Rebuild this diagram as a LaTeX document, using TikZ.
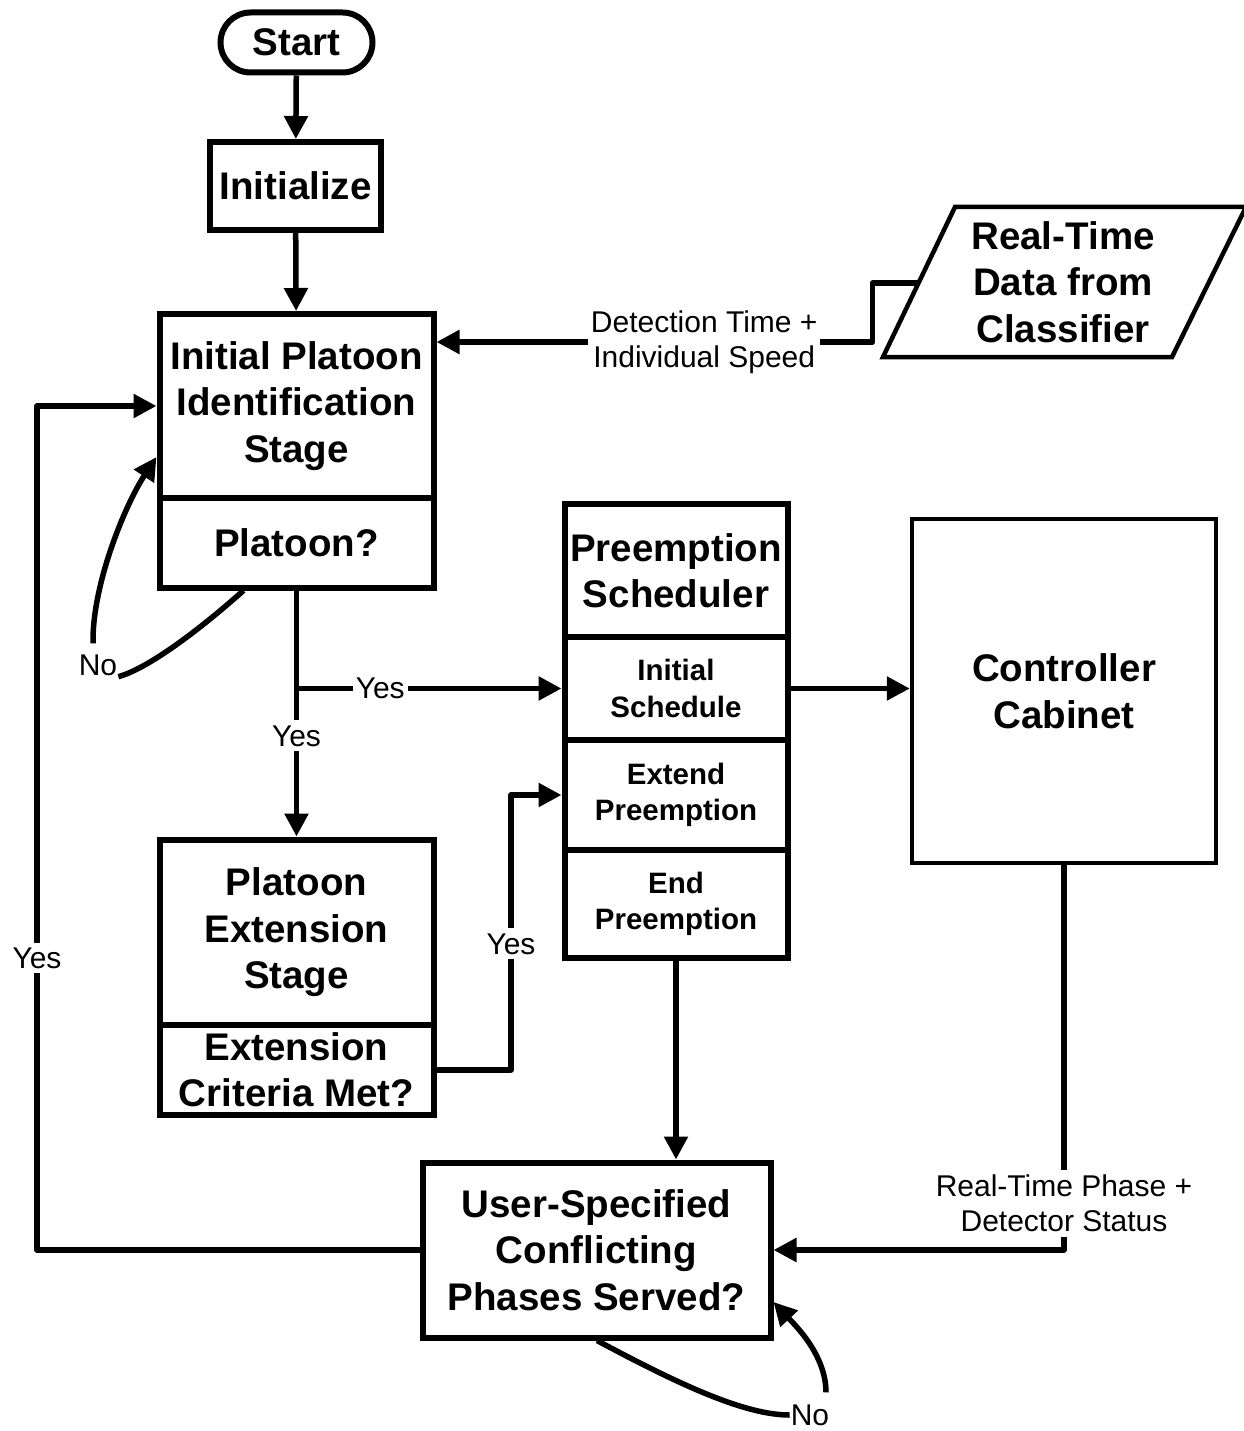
\documentclass[tikz,border=0pt]{standalone}
\usepackage{fontspec}
\setmainfont{Liberation Sans}
\usetikzlibrary{arrows.meta,calc}
\newcommand{\fbig}{\fontsize{38.5}{46.5}\selectfont\bfseries}
\newcommand{\fmid}{\fontsize{29.5}{36.5}\selectfont\bfseries}
\newcommand{\flab}{\fontsize{30}{35}\selectfont}
\begin{document}
\begin{tikzpicture}[x=1pt,y=-1pt,
  box/.style={draw,line width=6pt,font=\fbig,align=center,inner sep=0pt},
  sbox/.style={draw,line width=6pt,font=\fmid,align=center,inner sep=0pt},
  tbox/.style={draw,line width=4.5pt,font=\fbig,align=center,inner sep=0pt},
  lbl/.style={font=\flab,fill=white,inner xsep=3pt,inner ysep=5pt,align=center},
  nolbl/.style={font=\flab,inner sep=1pt},
  con/.style={line width=5.5pt,line join=round},
  arr/.style={line width=5.5pt,line join=round,-{Triangle[length=23pt,width=23pt]}}]
\useasboundingbox (0,0) rectangle (1243,1431);

% nodes
\node[box,rounded corners=30pt,minimum width=152pt,minimum height=60pt] (start) at (296.5,42.5) {Start};
\node[box,minimum width=171pt,minimum height=88pt] (init) at (295.5,186) {Initialize};
\node[box,minimum width=274pt,minimum height=184pt] (ipi) at (296.5,406) {Initial Platoon\\Identification\\Stage};
\node[box,minimum width=274pt,minimum height=89.5pt] (ipq) at (296.5,542.75) {Platoon?};

\node[box,minimum width=223pt,minimum height=133pt] (ps1) at (676,570.5) {Preemption\\Scheduler};
\node[sbox,minimum width=223pt,minimum height=103pt] (ps2) at (676,688.5) {Initial\\Schedule};
\node[sbox,minimum width=223pt,minimum height=110pt] (ps3) at (676,795) {Extend\\Preemption};
\node[sbox,minimum width=223pt,minimum height=108pt] (ps4) at (676,904) {End\\Preemption};

\node[tbox,minimum width=304pt,minimum height=344pt] (cc) at (1064,691) {Controller\\Cabinet};

\draw[line width=4.5pt,line join=miter] (955,207) -- (1246,207) -- (1172,357) -- (883,357) -- cycle;
\node[font=\fbig,align=center,inner sep=0pt] (rtd) at (1063,282) {Real-Time\\Data from\\Classifier};
\coordinate (pl) at (918.5,283);

\node[box,minimum width=274pt,minimum height=185.5pt] (pe1) at (296.5,932.25) {Platoon\\Extension\\Stage};
\node[box,minimum width=274pt,minimum height=89.5pt] (pe2) at (296.5,1069.75) {Extension\\Criteria Met?};

\node[box,minimum width=348pt,minimum height=175pt] (user) at (596.5,1250) {User-Specified\\Conflicting\\Phases Served?};

\node[nolbl] (no1) at (98,665) {No};
\node[nolbl] (no2) at (810,1415) {No};

\coordinate (lx) at (37,0);
\coordinate (ex) at (511,0);
\coordinate (j) at (ipq.south |- ps2.west);
\coordinate (ipiA) at ($(ipi.east)+(0,-64)$);

% connectors
\draw[arr] (start) -- (init);
\draw[arr] (init) -- (ipi);
\draw[arr] (pl) -- ++(-46,0) |- node[lbl,pos=0.693]{Detection Time +\\Individual Speed} (ipiA);

\draw[con] (ipq.south) -- (j);
\draw[arr] (j) -- node[lbl,pos=0.316]{Yes} (ps2.west);
\draw[arr] (j) -- node[lbl,pos=0.32]{Yes} (pe1.north);

\draw[arr] (pe2.east) -- (ex |- pe2.east) -- node[lbl,pos=0.458]{Yes} (ex |- ps3.west) -- (ps3.west);

\draw[arr] (ps2.east) -- (ps2.east -| cc.west);
\draw[arr] (ps4.south) -- (ps4.south |- user.north);

\draw[arr] (cc.south) |- node[lbl,pos=0.439]{Real-Time Phase +\\Detector Status} (user.east);

\draw[arr] (user.west) -- (lx |- user.west) -- node[lbl,pos=0.346]{Yes} (lx |- ipi.west) -- (ipi.west);

\draw[con] ($(ipq.south)+(-53,0)$) .. controls (205,625) and (150,668) .. (no1.south east);
\draw[arr] ($(no1.north)+(-5,-10)$) .. controls (92,585) and (125,505) .. ($(ipi.west)+(0,51)$);

\draw[con] ($(user.south)+(0.5,0)$) .. controls (680,1385) and (745,1415) .. (no2.west);
\draw[arr] ($(no2.north)+(16,-11)$) .. controls (826,1355) and (795,1325) .. ($(user.east)+(0,52)$);
\end{tikzpicture}
\end{document}
